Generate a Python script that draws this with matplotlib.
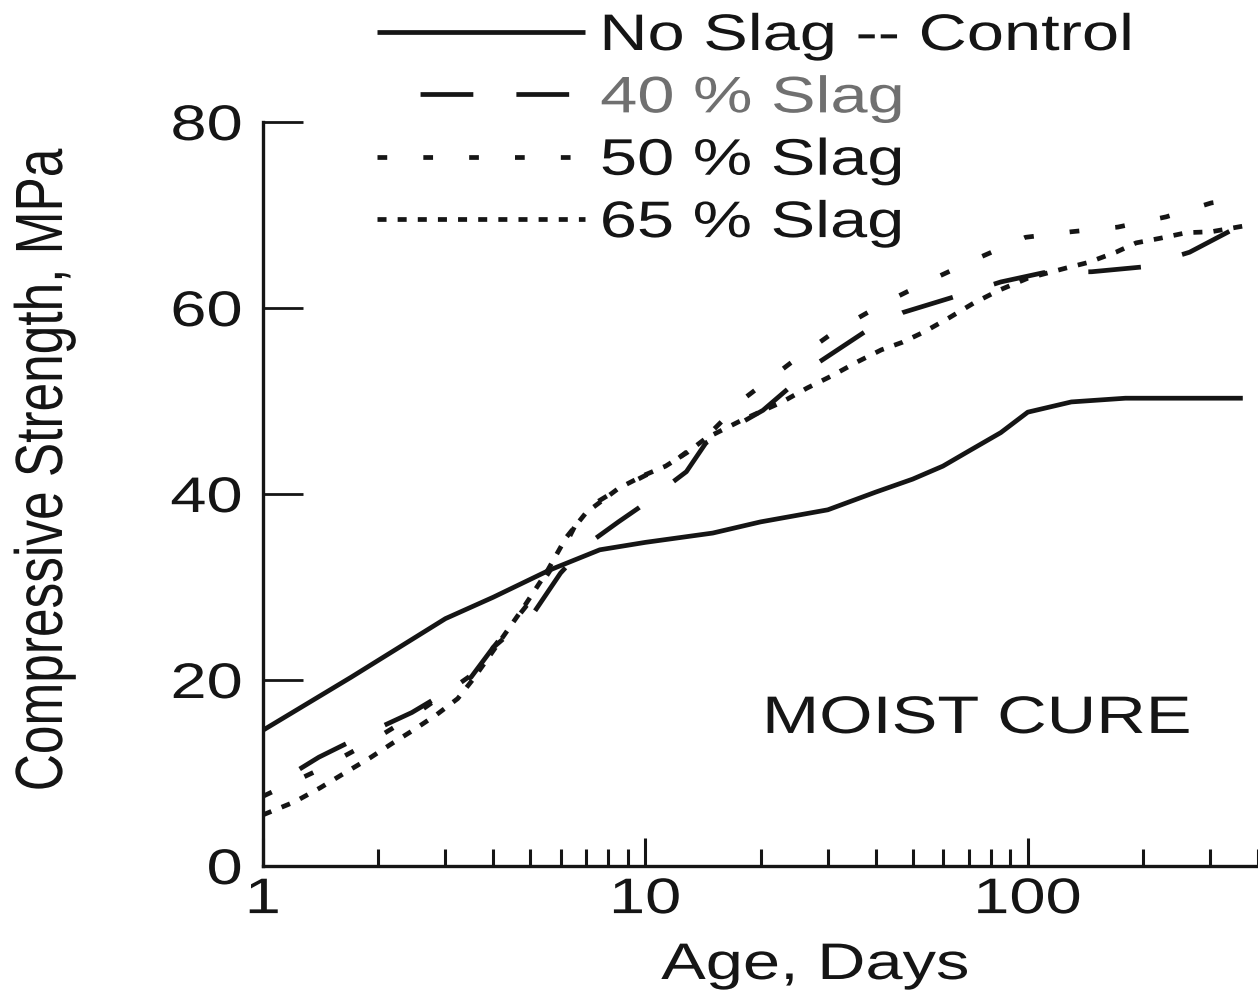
import matplotlib
matplotlib.use("Agg")
import matplotlib.pyplot as plt
from matplotlib.patheffects import AbstractPathEffect
from matplotlib.transforms import Affine2D
from matplotlib.ticker import NullFormatter, LogLocator

plt.rcParams['font.family'] = ['Liberation Sans', 'DejaVu Sans']
plt.rcParams['lines.scale_dashes'] = False

# ---- data: compressive strength (MPa) vs age (days), moist cured ----
age_control = [1, 1.7, 3, 4, 5.6, 7.6, 10, 15, 20, 30, 40, 50, 60, 70, 85,
               100, 130, 180, 365]
strength_control = [14.6, 20.3, 26.6, 28.9, 31.8, 34.0, 34.8, 35.8, 37.0, 38.3,
                    40.2, 41.6, 43.0, 44.6, 46.6, 48.8, 49.9, 50.3, 50.3]

age_slag40 = [1, 1.4, 1.9, 2.45, 3.5, 4.0, 5.1, 6.0, 7.0, 8.5, 9.6, 12.8, 14.4,
              17, 20.3, 28.5, 38, 47, 63, 85, 110, 147, 198, 265, 365]
strength_slag40 = [8.0, 11.7, 14.4, 16.5, 20.3, 23.5, 27.2, 31.5, 34.5, 37.0,
                   38.5, 42.4, 45.5, 47.2, 49.0, 54.2, 57.6, 59.5, 61.1, 62.8,
                   63.8, 63.9, 64.4, 66.0, 69.0]

age_slag50 = [1, 1.41, 1.9, 2.5, 3.5, 5.0, 6.0, 6.7, 7.45, 8.4, 10, 11.8, 14.4,
              18.3, 24, 31.6, 42, 55.7, 74.5, 98.6, 130, 172, 230, 302, 365]
strength_slag50 = [7.5, 10.4, 13.3, 16.3, 20.5, 28.5, 33.5, 37.4, 39.1, 40.4,
                   42.0, 43.4, 46.1, 50.4, 54.1, 57.6, 60.5, 63.0, 65.4, 67.6,
                   68.2, 68.7, 69.8, 71.3, 71.8]

age_slag65 = [1, 1.21, 1.41, 1.62, 1.9, 2.18, 2.47, 2.85, 3.23, 3.53, 3.84, 4.8,
              5.5, 6.2, 7.0, 8.5, 9.9, 11.3, 12.9, 14.4, 18, 22.8, 26.5, 30.7,
              35.8, 41.4, 46.9, 53.4, 62, 72, 84, 100, 126, 144, 170, 192, 222,
              260, 302, 365]
strength_slag65 = [5.5, 6.9, 8.4, 9.9, 11.6, 13.2, 14.6, 16.3, 18.0, 20.0, 22.1,
                   27.8, 31.5, 35.3, 38.0, 40.6, 42.0, 43.0, 44.5, 46.0, 48.0,
                   49.9, 51.4, 52.7, 54.2, 55.5, 56.3, 57.4, 58.9, 60.5, 61.9,
                   63.2, 64.3, 64.9, 66.0, 67.0, 67.5, 68.1, 68.2, 68.8]

series_labels = ["No Slag -- Control", "40 % Slag", "50 % Slag", "65 % Slag"]
y_ticks = [0, 20, 40, 60, 80]
x_ticks = [1, 10, 100]
x_tick_labels = ["1", "10", "100"]


class Widen(AbstractPathEffect):
    """Draw text glyphs stretched horizontally about one edge of their ink box."""

    def __init__(self, sx=1.3, anchor="center"):
        super().__init__()
        self.sx = sx
        self.anchor = anchor

    def draw_path(self, renderer, gc, tpath, affine, rgbFace=None):
        ext = tpath.get_extents(affine)
        if self.anchor == "left":
            x0 = ext.x0
        elif self.anchor == "right":
            x0 = ext.x1
        else:
            x0 = 0.5 * (ext.x0 + ext.x1)
        stretch = Affine2D().translate(-x0, 0).scale(self.sx, 1.0).translate(x0, 0)
        renderer.draw_path(gc, tpath, affine + stretch, rgbFace)


INK = "#151515"
SX = 1.3
W, H = 1258, 1007

fig = plt.figure(figsize=(W / 100, H / 100), dpi=100)
ax = fig.add_axes([263 / W, 1 - 866 / H, 995 / W, 744 / H])
ax.set_xscale("log")
ax.set_xlim(1, 400)
ax.set_ylim(0, 80)

lw = 3.4
ax.plot(age_control, strength_control, color=INK, lw=lw, linestyle="-",
        label=series_labels[0], solid_capstyle="butt")
ax.plot(age_slag40, strength_slag40, color=INK, lw=lw,
        linestyle=(38, (38, 31)), label=series_labels[1])
ax.plot(age_slag50, strength_slag50, color=INK, lw=lw,
        linestyle=(0, (7, 26)), label=series_labels[2])
ax.plot(age_slag65, strength_slag65, color=INK, lw=lw,
        linestyle=(0, (6.5, 8)), label=series_labels[3])

# axes frame
for side in ("top", "right"):
    ax.spines[side].set_visible(False)
for side in ("left", "bottom"):
    ax.spines[side].set_linewidth(2.4)
    ax.spines[side].set_color(INK)

ax.set_yticks(y_ticks)
ax.set_xticks(x_ticks, labels=x_tick_labels)
ax.xaxis.set_minor_locator(LogLocator(base=10, subs=range(2, 10), numticks=20))
ax.xaxis.set_minor_formatter(NullFormatter())

ax.tick_params(axis="y", which="major", direction="in", length=29, width=2.0,
               pad=15, labelsize=36, colors=INK)
ax.tick_params(axis="x", which="major", direction="in", length=20, width=2.2,
               pad=8, labelsize=36, colors=INK)
ax.tick_params(axis="x", which="minor", direction="in", length=12, width=2.2,
               colors=INK)

for t in ax.get_yticklabels():
    t.set_path_effects([Widen(SX, "right")])
for t in ax.get_xticklabels():
    t.set_path_effects([Widen(SX, "center")])

ax.set_xlabel("Age, Days", fontsize=37, color=INK, path_effects=[Widen(SX)])
ax.xaxis.set_label_coords((815 - 263) / 995, -0.1008)
ax.set_ylabel("Compressive Strength, MPa", fontsize=37, color=INK,
              path_effects=[Widen(SX)])
ax.yaxis.set_label_coords(-0.195, 0.532)

ax.text(0.7176, 0.1788, "MOIST CURE", transform=ax.transAxes, ha="center",
        va="baseline", fontsize=38, color=INK, path_effects=[Widen(SX)])

leg = ax.legend(loc="upper left", bbox_to_anchor=(377 / W, 1 - 12 / H),
                bbox_transform=fig.transFigure, frameon=False, fontsize=37,
                handlelength=4.05, handletextpad=0.3, labelspacing=0.26,
                borderpad=0, borderaxespad=0)
for i, t in enumerate(leg.get_texts()):
    t.set_path_effects([Widen(SX, "left")])
    t.set_color("#707070" if i == 1 else INK)

fig.savefig("out.png", dpi=100, facecolor="white")
